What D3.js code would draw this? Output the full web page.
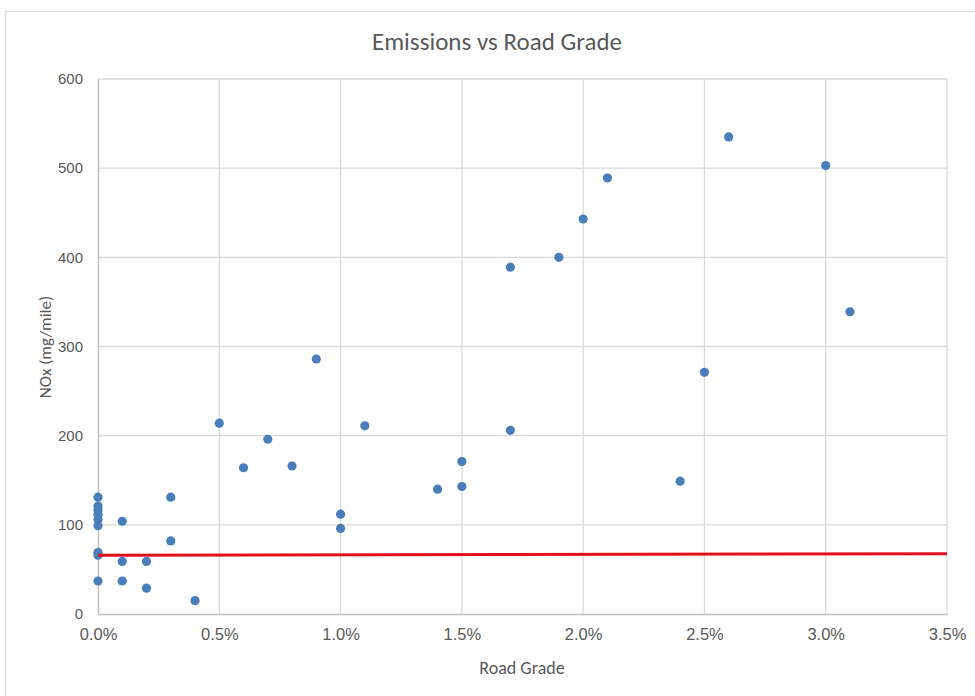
<!DOCTYPE html>
<html><head><meta charset="utf-8">
<script src="https://cdn.jsdelivr.net/npm/d3@7"></script>
<style>body{margin:0;background:#fff;}svg{display:block;font-family:Calibri,Carlito,"Open Sans","Liberation Sans",sans-serif;}</style>
</head><body>
<svg id="chart" width="975" height="696"></svg>
<script>
const grade = [0,0,0,0,0,0,0,0,0,0.1,0.1,0.1,0.2,0.2,0.3,0.3,0.4,0.5,0.6,0.7,0.8,0.9,1.0,1.0,1.1,1.4,1.5,1.5,1.7,1.7,1.9,2.0,2.1,2.4,2.5,2.6,3.0,3.1];
const nox   = [131,121,117,112,106,99,69,66,37,104,59,37,59,29,131,82,15,214,164,196,166,286,112,96,211,140,171,143,389,206,400,443,489,149,271,535,503,339];
const xTicks = [0,0.5,1.0,1.5,2.0,2.5,3.0,3.5];
const yTicks = [0,100,200,300,400,500,600];
const refLine = [{x:0,y:66},{x:3.5,y:67.5}];
const title = "Emissions vs Road Grade";
const xTitle = "Road Grade";
const yTitle = "NOx (mg/mile)";

const svg = d3.select("#chart");
const x = d3.scaleLinear().domain([0,3.5]).range([98,947]);
const y = d3.scaleLinear().domain([0,600]).range([614,79]);

// outer frame
svg.append("path").attr("d","M5.5,700 V11.5 H980").attr("fill","none").attr("stroke","#d9d9d9").attr("stroke-width",1.2);

// grid
svg.append("g").selectAll("line").data(yTicks.slice(1)).join("line")
  .attr("x1",x(0)).attr("x2",x(3.5)).attr("y1",d=>y(d)).attr("y2",d=>y(d))
  .attr("stroke","#d9d9d9").attr("stroke-width",1.3);
svg.append("g").selectAll("line").data(xTicks.slice(1)).join("line")
  .attr("x1",d=>x(d)).attr("x2",d=>x(d)).attr("y1",y(0)).attr("y2",y(600))
  .attr("stroke","#d9d9d9").attr("stroke-width",1.3);

// axes
const xAxis = svg.append("g").attr("transform",`translate(0,${y(0)})`)
  .call(d3.axisBottom(x).tickValues(xTicks).tickSize(0).tickPadding(14).tickFormat(d=>d.toFixed(1)+"%"));
xAxis.select(".domain").attr("stroke","#bfbfbf").attr("stroke-width",1.5);
xAxis.selectAll("text").attr("font-size",16.5).attr("fill","#595959");
const yAxis = svg.append("g").attr("transform",`translate(${x(0)},0)`)
  .call(d3.axisLeft(y).tickValues(yTicks).tickSize(0).tickPadding(15));
yAxis.select(".domain").attr("stroke","#bfbfbf").attr("stroke-width",1.5);
yAxis.selectAll("text").attr("font-size",15).attr("fill","#595959");

// titles
svg.append("text").attr("x",497).attr("y",50).attr("text-anchor","middle")
  .attr("font-size",25).attr("fill","#595959").text(title);
svg.append("text").attr("x",522).attr("y",674).attr("text-anchor","middle")
  .attr("font-size",18).attr("fill","#595959").text(xTitle);
svg.append("text").attr("transform","translate(51,347) rotate(-90)").attr("text-anchor","middle")
  .attr("font-size",17).attr("fill","#595959").text(yTitle);

// points
const pts = grade.map((g,i)=>({g, v:nox[i]}));
svg.append("g").selectAll("circle").data(pts).join("circle")
  .attr("cx",d=>x(d.g)).attr("cy",d=>y(d.v)).attr("r",4.6).attr("fill","#4a7ebb");

// red reference line
svg.append("path").datum(refLine)
  .attr("d",d3.line().x(d=>x(d.x)).y(d=>y(d.y)))
  .attr("stroke","#e3101b").attr("stroke-width",3).attr("fill","none");
</script>
</body></html>
